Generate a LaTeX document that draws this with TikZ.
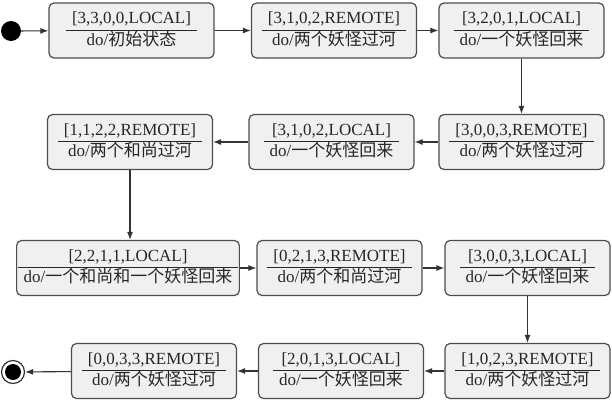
\documentclass[tikz,border=0pt]{standalone}
\usepackage{fontspec}
\setmainfont{Liberation Serif}
\newfontfamily\cjk{Noto Sans CJK SC}
\usetikzlibrary{arrows.meta}
\setlength{\arrayrulewidth}{1pt}
\newcommand{\statetext}[2]{\begin{tabular}{c}#1\\\hline #2\end{tabular}}
\tikzset{
	state/.style={draw=black!70, fill=black!6, rounded corners=5pt, line width=1.2pt, minimum width=165pt, minimum height=55pt, inner sep=1pt, text=black!85, font=\fontsize{17}{20}\selectfont},
	trans/.style={-{Latex[length=8pt,width=6pt]}, line width=1.1pt, draw=black!80},
}
\begin{document}
\begin{tikzpicture}
			\useasboundingbox (0pt,0pt) rectangle (612pt,-402pt);
			% first row
			\node[circle, fill=black, minimum size=20pt, inner sep=0pt] (init) at (11pt,-31pt) {};
			\node[state] (s1) at (131.5pt,-30.5pt) {\statetext{[3,3,0,0,LOCAL]}{do/\cjk 初始状态}};
			\node[state] (s2) at (334pt,-30.5pt) {\statetext{[3,1,0,2,REMOTE]}{do/\cjk 两个妖怪过河}};
			\node[state] (s3) at (521.5pt,-30.5pt) {\statetext{[3,2,0,1,LOCAL]}{do/\cjk 一个妖怪回来}};
			% second row
			\node[state] (s4) at (521.5pt,-142pt) {\statetext{[3,0,0,3,REMOTE]}{do/\cjk 两个妖怪过河}};
			\node[state] (s5) at (331.5pt,-142pt) {\statetext{[3,1,0,2,LOCAL]}{do/\cjk 一个妖怪回来}};
			\node[state] (s6) at (130pt,-142pt) {\statetext{[1,1,2,2,REMOTE]}{do/\cjk 两个和尚过河}};
			% third row
			\node[state, minimum width=222pt] (s7) at (128pt,-268pt) {\statetext{[2,2,1,1,LOCAL]}{do/\cjk 一个和尚和一个妖怪回来}};
			\node[state] (s8) at (339.5pt,-268pt) {\statetext{[0,2,1,3,REMOTE]}{do/\cjk 两个和尚过河}};
			\node[state] (s9) at (527.5pt,-268pt) {\statetext{[3,0,0,3,LOCAL]}{do/\cjk 一个妖怪回来}};
			% fourth row
			\node[state] (s10) at (527.5pt,-371pt) {\statetext{[1,0,2,3,REMOTE]}{do/\cjk 两个妖怪过河}};
			\node[state] (s11) at (341pt,-371pt) {\statetext{[2,0,1,3,LOCAL]}{do/\cjk 一个妖怪回来}};
			\node[state] (s12) at (154pt,-371pt) {\statetext{[0,0,3,3,REMOTE]}{do/\cjk 两个妖怪过河}};
			\node[circle, draw=black!80, line width=1.2pt, minimum size=23pt, inner sep=0pt] (final) at (13pt,-372pt) {};
			\node[circle, fill=black, minimum size=16pt, inner sep=0pt] (finaldot) at (final) {};
			% transitions
			\draw[trans] (init) -- (s1);
			\draw[trans] (s1) -- (s2);
			\draw[trans] (s2) -- (s3);
			\draw[trans] (s3) -- (s4);
			\draw[trans] (s4) -- (s5);
			\draw[trans] (s5) -- (s6);
			\draw[trans] (s6.south) -- (s6.south |- s7.north);
			\draw[trans] (s7) -- (s8);
			\draw[trans] (s8) -- (s9);
			\draw[trans] (s9) -- (s10);
			\draw[trans] (s10) -- (s11);
			\draw[trans] (s11) -- (s12);
			\draw[trans] (s12) -- (final);
\end{tikzpicture}
\end{document}
